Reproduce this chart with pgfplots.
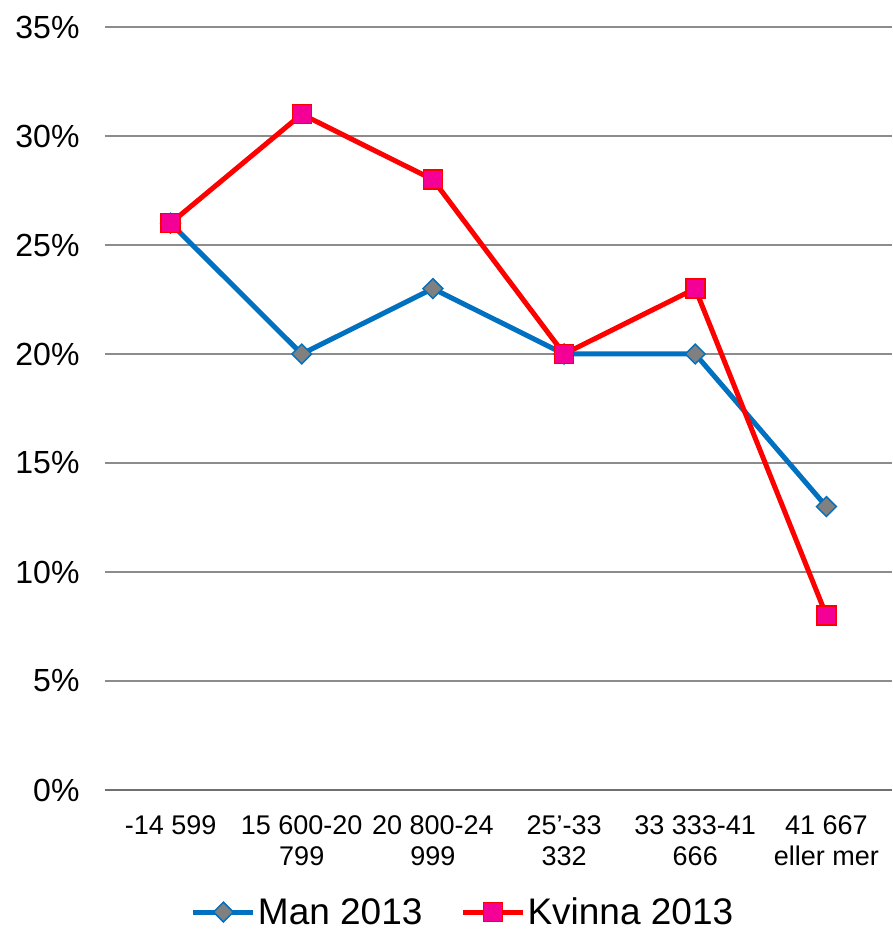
\documentclass[border=0pt]{standalone}
\usepackage{fontspec}
\setmainfont{Liberation Sans}
\usepackage{pgfplots}
\pgfplotsset{compat=1.18}
\definecolor{manblue}{RGB}{0,112,192}
\definecolor{mangray}{RGB}{128,128,128}
\definecolor{kvred}{RGB}{255,0,0}
\definecolor{kvpink}{RGB}{245,0,150}
\definecolor{gridgray}{RGB}{140,140,140}

\begin{document}
\begin{tikzpicture}
\useasboundingbox (-105pt,-143pt) rectangle (787pt,790pt);
\begin{axis}[
    at={(0,0)}, anchor=south west,
    scale only axis,
    width=787pt, height=763pt,
    xmin=-0.5, xmax=5.5,
    ymin=0, ymax=35,
    xtick={0,1,2,3,4,5},
    xticklabels={{-14 599}, {15 600-20\\799}, {20 800-24\\999}, {25'-33\\332}, {33 333-41\\666}, {41 667\\eller mer}},
    x tick label style={font=\fontsize{27}{31}\selectfont, align=center, yshift=-22pt},
    ytick={0,5,...,35},
    yticklabel={\pgfmathprintnumber{\tick}\%},
    y tick label style={font=\fontsize{32}{36}\selectfont, xshift=-22pt},
    /pgf/number format/assume math mode=true,
    major tick length=0pt,
    ymajorgrids=true,
    grid style={gridgray, line width=1.5pt},
    axis x line*=bottom,
    axis y line*=left,
    x axis line style={gridgray!80!black, line width=2.5pt},
    y axis line style={draw=none},
    legend columns=2,
    legend style={at={(0.455,-0.160)}, anchor=center, draw=none, inner sep=0pt,
                  font=\fontsize{37}{42}\selectfont,
                  /tikz/every even column/.append style={column sep=36pt}},
    legend image code/.code={
        \draw[#1, mark repeat=2, mark phase=2] plot coordinates {(0pt,0pt) (30pt,0pt) (60pt,0pt)};
    },
]
\addplot[manblue, line width=5pt, mark=square*,
    mark options={fill=mangray, draw=manblue, line width=1.5pt, solid, rotate=45}, mark size=7pt]
    coordinates {(0,26)(1,20)(2,23)(3,20)(4,20)(5,13)};
\addplot[kvred, line width=5pt, mark=square*,
    mark options={fill=kvpink, draw=kvred, line width=1.5pt, solid}, mark size=9.5pt]
    coordinates {(0,26)(1,31)(2,28)(3,20)(4,23)(5,8)};
\legend{Man 2013, Kvinna 2013}
\end{axis}
\end{tikzpicture}
\end{document}
